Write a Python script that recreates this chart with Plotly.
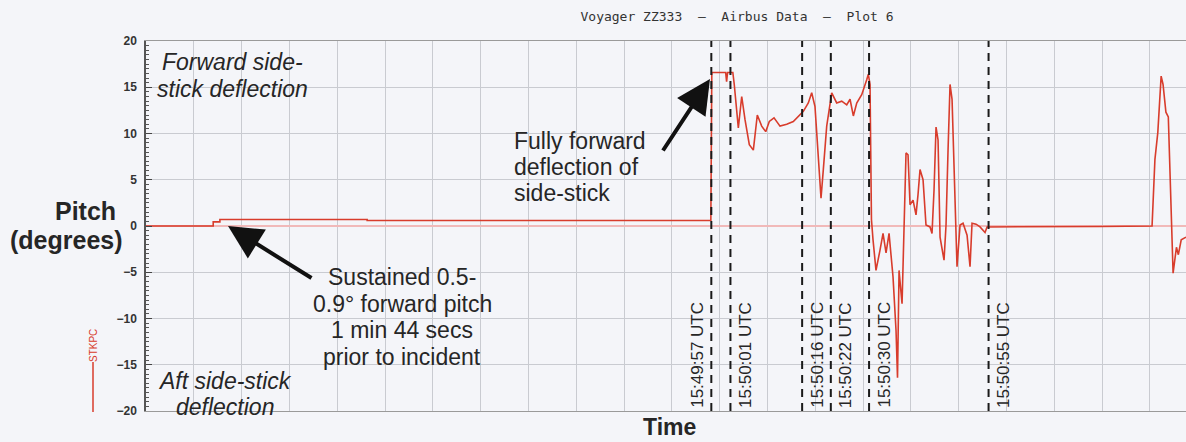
import plotly.graph_objects as go
import pandas as pd

# ---------------- data ----------------
base_time = "2014-02-09 15:49:57"
# seconds relative to 15:49:57 UTC
t_offset_s = [-118.3, -104.2, -104.2, -102.8, -102.8, -72.0, -72.0, -0.1, 0.1,
              3.0, 3.2, 3.4, 4.5, 4.8, 5.65, 6.36, 7.05, 7.95, 8.79, 9.62, 10.54,
              11.38, 12.13, 13.12, 14.37, 15.77, 17.15, 18.56, 19.25, 20.29, 21.0,
              21.69, 22.38, 22.95, 23.43, 24.14, 25.19, 26.23, 27.28, 28.33, 29.02,
              29.71, 30.42, 31.46, 32.51, 32.85, 33.2, 33.5, 33.83, 34.45, 35.29,
              35.92, 36.55, 37.18, 38.01, 38.64, 38.95, 39.27, 39.9, 40.3, 40.73,
              41.15, 41.57, 42.2, 42.82, 43.24, 43.66, 44.29, 44.91, 45.75, 46.17,
              46.59, 47.01, 47.43, 47.85, 48.68, 49.1, 49.52, 49.94, 50.36, 50.98,
              51.4, 52.03, 52.66, 53.5, 54.12, 54.54, 55.38, 56.21, 57.26, 57.68,
              70.86, 81.3, 92.2, 92.8, 93.4, 94.1, 94.5, 95.1, 95.6, 96.2, 96.6,
              97.3, 97.7, 98.3, 99.3]
stkpc_deg = [0.0, 0.0, 0.45, 0.45, 0.7, 0.7, 0.6, 0.6, 16.6,
             16.6, 15.6, 16.6, 16.6, 15.3, 10.6, 14.0, 11.5, 8.8, 8.2, 12.0, 10.8,
             10.2, 11.3, 11.7, 10.8, 11.0, 11.3, 12.0, 12.4, 13.3, 14.4,
             12.9, 7.2, 3.0, 6.1, 10.8, 14.4, 13.3, 13.5, 13.1, 13.7,
             11.9, 13.3, 14.2, 15.8, 16.4, 15.3, 0.7, -1.5, -4.8, -2.6,
             -0.8, -2.9, -0.8, -5.5, -11.3, -16.4, -4.8, -8.4, -0.4, 7.9,
             7.7, 2.3, 2.8, 1.2, 3.4, 6.1, 5.0, 0.1, -0.1, -0.8,
             3.9, 10.7, 9.3, -1.2, -3.7, 0.1, 8.2, 15.3, 13.7, 2.8,
             -4.4, 0.1, 0.3, -1.0, -4.4, 0.3, 0.2, -0.1, -0.7, -0.1,
             -0.1, -0.05, 0.0, 7.2, 10.1, 16.2, 15.3, 12.3, 11.8, 2.3, -5.1,
             -2.3, -3.1, -1.5, -1.2]
event_times = ["15:49:57", "15:50:01", "15:50:16", "15:50:22", "15:50:30", "15:50:55"]
event_labels = [t + " UTC" for t in event_times]
y_ticks = [-20, -15, -10, -5, 0, 5, 10, 15, 20]

# ---------------- geometry helpers ----------------
W, H = 1186, 442
L, R, T, B = 146, 0, 41, 31
PW, PH = W - L - R, H - T - B


def pxx(xp):
    return (xp - L) / PW


def pxy(yp):
    return (H - B - yp) / PH


FONT = "Liberation Sans, Arial, Helvetica, sans-serif"
TXT = "#262626"
RED = "#d83c2c"

base = pd.Timestamp(base_time)
x_vals = base + pd.to_timedelta(t_offset_s, unit="s")
ev_x = [pd.Timestamp("2014-02-09 " + t) for t in event_times]
x_start = base + pd.to_timedelta(-118.26, unit="s")
x_end = base + pd.to_timedelta(99.3, unit="s")

fig = go.Figure()
fig.add_trace(go.Scatter(x=x_vals, y=stkpc_deg, mode="lines",
                         line=dict(color=RED, width=1.6),
                         showlegend=False, hoverinfo="skip"))

shapes = []
annotations = []

# dashed event lines and labels
for i, (xv, lab) in enumerate(zip(ev_x, event_labels)):
    shapes.append(dict(type="line", xref="x", yref="paper", x0=xv, x1=xv,
                       y0=0, y1=1, line=dict(color="#1a1a1a", width=2,
                                             dash="8px,6px")))
    left_side = (i == 0)
    annotations.append(dict(x=xv, y=0, xref="x", yref="paper", text=lab,
                            showarrow=False, textangle=-90,
                            xanchor="right" if left_side else "left",
                            yanchor="bottom",
                            xshift=-3 if left_side else 3, yshift=1,
                            font=dict(family=FONT, size=17, color=TXT)))


def add_lines(lines, xp, yps, anchor, size, italic=False, bold=False, yanchor="middle"):
    for line, yp in zip(lines, yps):
        annotations.append(dict(x=pxx(xp), y=pxy(yp), xref="paper", yref="paper",
                                text=line, showarrow=False, xanchor=anchor,
                                yanchor=yanchor,
                                font=dict(family=FONT, size=size, color=TXT,
                                          style="italic" if italic else "normal",
                                          weight="bold" if bold else "normal")))


add_lines(["Forward side-", "stick deflection"], 232, [62, 89], "center", 23, italic=True)
add_lines(["Aft side-stick", "deflection"], 225, [381, 407], "center", 23, italic=True)
add_lines(["Fully forward", "deflection of", "side-stick"], 512, [141, 167, 193], "left", 23)
add_lines(["Sustained 0.5-", "0.9\u00b0 forward pitch", "1 min 44 secs", "prior to incident"],
          402, [277, 304, 330, 357], "center", 23)
add_lines(["Pitch"], 85, [211], "center", 25, bold=True)
add_lines(["(degrees)"], 66, [240], "center", 25, bold=True)
add_lines(["Time"], 669, [442], "center", 23, bold=True, yanchor="bottom")

# arrows
annotations.append(dict(x=pxx(710), y=pxy(79), xref="paper", yref="paper", text="",
                        showarrow=True, ax=-48, ay=73, arrowhead=2, arrowsize=1.7,
                        arrowwidth=4, arrowcolor="#111111"))
annotations.append(dict(x=pxx(228), y=pxy(226), xref="paper", yref="paper", text="",
                        showarrow=True, ax=85, ay=53, arrowhead=2, arrowsize=1.7,
                        arrowwidth=4, arrowcolor="#111111"))

# legend marker (STKPC)
annotations.append(dict(x=pxx(93), y=pxy(346), xref="paper", yref="paper", text="STKPC",
                        showarrow=False, textangle=-90, xanchor="center", yanchor="middle",
                        font=dict(family=FONT, size=10, color=RED)))
shapes.append(dict(type="line", xref="paper", yref="paper", x0=pxx(93), x1=pxx(93),
                   y0=pxy(362), y1=pxy(412), line=dict(color=RED, width=1.5)))

fig.update_layout(
    width=W, height=H,
    margin=dict(l=L, r=R, t=T, b=B, pad=0),
    paper_bgcolor="#f4f5f9",
    plot_bgcolor="#f4f5f9",
    title=dict(text="Voyager ZZ333  \u2013  Airbus Data  \u2013  Plot 6",
               x=674 / W, y=1 - 16 / H, xanchor="center", yanchor="middle",
               xref="paper", yref="container",
               font=dict(family="DejaVu Sans Mono, monospace", size=13, color="#333333")),
    xaxis=dict(type="date", range=[x_start, x_end], showticklabels=False,
               tick0=x_start, dtick=10000, ticks="",
               showgrid=True, gridcolor="#c9cbd1", gridwidth=1,
               showline=True, mirror=True, linecolor="#9a9a9a", linewidth=1,
               zeroline=False, fixedrange=True),
    yaxis=dict(range=[-20, 20], tickmode="array", tickvals=y_ticks,
               ticktext=[("\u2212" + str(-v)) if v < 0 else str(v) for v in y_ticks],
               ticks="inside", ticklen=6, tickcolor="#444444", tickwidth=1,
               tickfont=dict(family=FONT, size=12, color="#333333", weight="bold"),
               ticklabelstandoff=5,
               minor=dict(dtick=0.5, tick0=0, ticks="inside", ticklen=3,
                          tickcolor="#555555", showgrid=False),
               showgrid=True, gridcolor="#c9cbd1", gridwidth=1,
               showline=True, linecolor="#555555", linewidth=1.5,
               zeroline=True, zerolinecolor="#f1b9b9", zerolinewidth=1.5,
               fixedrange=True),
    shapes=shapes,
    annotations=annotations,
    showlegend=False,
)

fig.write_html("out.html",
               config={"displayModeBar": False},
               post_script="document.body.style.margin='0';"
                           "document.body.style.overflow='hidden';"
                           "document.body.style.background='#f4f5f9';")
